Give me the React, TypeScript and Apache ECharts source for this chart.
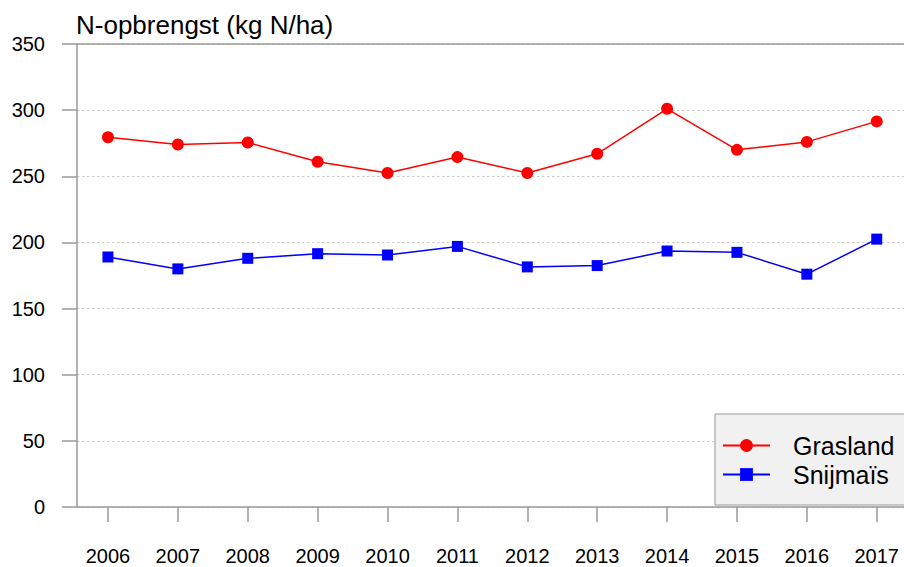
import React, { useEffect, useRef } from "react";
import * as echarts from "echarts";

const years = [2006, 2007, 2008, 2009, 2010, 2011, 2012, 2013, 2014, 2015, 2016, 2017];
const grasland = [279.5, 274, 275.5, 261, 252.5, 264.5, 252.5, 267, 301, 270, 276, 291.5];
const snijmais = [189, 180, 188, 191.5, 190.5, 197, 181.5, 182.5, 193.5, 192.5, 176, 202.5];
const yTicks = { min: 0, max: 350, interval: 50 };
const title = "N-opbrengst (kg N/ha)";
const seriesNames = ["Grasland", "Snijmaïs"];

const FONT = "Liberation Sans, Arial, Helvetica, sans-serif";

export default function App() {
  const ref = useRef<HTMLDivElement>(null);
  useEffect(() => {
    if (!ref.current) return;
    const chart = echarts.init(ref.current, null, { renderer: "svg" });
    const xMin = 2005.557;
    const xMax = 2017.39;
    const axisGrey = "#9a9a9a";
    chart.setOption({
      animation: false,
      backgroundColor: "#ffffff",
      textStyle: { fontFamily: FONT },
      title: {
        text: title,
        left: 76,
        top: 12,
        padding: 0,
        textStyle: { fontFamily: FONT, fontSize: 26, fontWeight: "normal", color: "#000" },
      },
      grid: { left: 77, right: 0, top: 44, bottom: 60, containLabel: false },
      legend: {
        orient: "vertical",
        left: 715,
        top: 414,
        itemWidth: 47,
        itemHeight: 16,
        itemGap: 4,
        padding: [19, 60, 18, 7],
        backgroundColor: "#f1f1f1",
        borderColor: "#999999",
        borderWidth: 1,
        borderRadius: 0,
        textStyle: { fontFamily: FONT, fontSize: 25, color: "#000", padding: [0, 0, 0, 18] },
        data: seriesNames,
      },
      xAxis: [
        {
          type: "value",
          min: xMin,
          max: xMax,
          position: "bottom",
          axisLine: { show: true, lineStyle: { color: axisGrey, width: 1.5 } },
          axisTick: { show: true, length: 15, customValues: years, lineStyle: { color: axisGrey, width: 1.5 } },
          axisLabel: {
            show: true,
            customValues: years,
            margin: 39,
            fontSize: 20,
            color: "#000",
            fontFamily: FONT,
            formatter: (v: number) => String(v),
          },
          splitLine: { show: false },
        },
        {
          type: "value",
          min: xMin,
          max: xMax,
          position: "top",
          axisLine: { show: true, lineStyle: { color: axisGrey, width: 1.5 } },
          axisTick: { show: false },
          axisLabel: { show: false },
          splitLine: { show: false },
        },
      ],
      yAxis: {
        type: "value",
        min: yTicks.min,
        max: yTicks.max,
        interval: yTicks.interval,
        axisLine: { show: true, lineStyle: { color: axisGrey, width: 1.5 } },
        axisTick: { show: true, length: 15, lineStyle: { color: axisGrey, width: 1.5 } },
        axisLabel: { margin: 32, fontSize: 20, color: "#000", fontFamily: FONT },
        splitLine: { show: true, lineStyle: { color: "#cccccc", type: [2.5, 2.5], width: 1 } },
      },
      series: [
        {
          name: seriesNames[0],
          type: "line",
          data: years.map((y, i) => [y, grasland[i]]),
          symbol: "circle",
          symbolSize: 12,
          color: "#ff0000",
          lineStyle: { color: "#ff0000", width: 1.5 },
          itemStyle: { color: "#ff0000" },
        },
        {
          name: seriesNames[1],
          type: "line",
          data: years.map((y, i) => [y, snijmais[i]]),
          symbol: "rect",
          symbolSize: 11,
          color: "#0000ff",
          lineStyle: { color: "#0000ff", width: 1.5 },
          itemStyle: { color: "#0000ff" },
        },
      ],
    });
    return () => chart.dispose();
  }, []);
  return <div ref={ref} style={{ width: 904, height: 567, position: "absolute", left: 0, top: 0 }} />;
}
